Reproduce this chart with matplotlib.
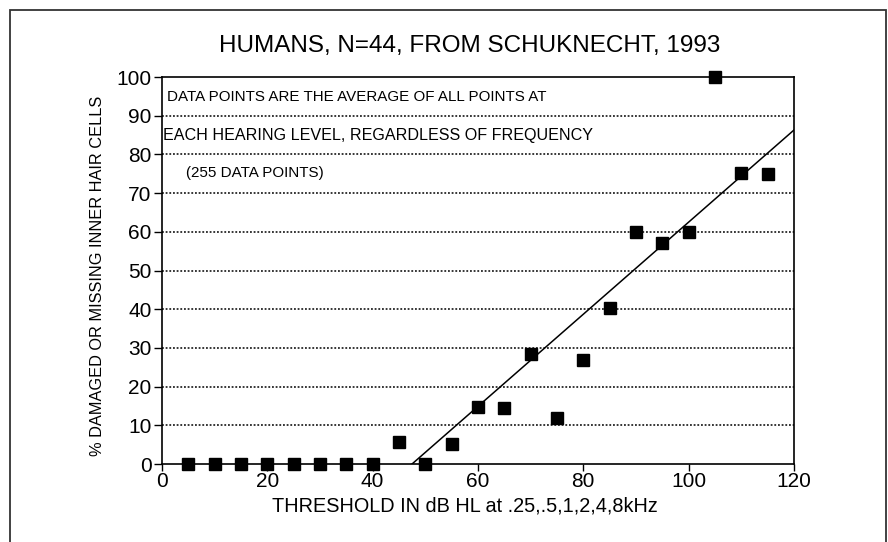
import matplotlib
matplotlib.use("Agg")
import matplotlib.pyplot as plt
from matplotlib.patches import Rectangle

# average % damaged/missing IHC per hearing level
threshold = [5, 10, 15, 20, 25, 30, 35, 40, 45, 50, 55, 60, 65, 70, 75, 80, 85, 90, 95, 100, 105, 110, 115]
damaged = [0, 0, 0, 0, 0, 0, 0, 0, 5.7, 0, 5.2, 14.7, 14.5, 28.4, 11.9, 26.9, 40.3, 60, 57, 60, 100, 75.2, 75]

# regression line drawn in the figure
fit_slope = 1.19
fit_intercept = -56.5
fit_x = [47.5, 120]

notes = ["DATA POINTS ARE THE AVERAGE OF ALL POINTS AT",
         "EACH HEARING LEVEL, REGARDLESS OF FREQUENCY",
         "(255 DATA POINTS)"]

plt.rcParams['font.family'] = ['Liberation Sans', 'DejaVu Sans']

fig = plt.figure(figsize=(8.88, 5.42), dpi=100)
ax = fig.add_axes([0.1824, 0.1439, 0.7117, 0.7140])

for g in range(10, 100, 10):
    ax.axhline(g, color='black', linestyle=(0, (1.2, 1.2)), linewidth=1.1, zorder=1)

ax.plot(fit_x, [fit_slope * x + fit_intercept for x in fit_x], color='black', linewidth=1.1, zorder=2)
ax.plot(threshold, damaged, linestyle='none', marker='s', markersize=8, color='black', clip_on=False, zorder=3)

ax.set_xlim(0, 120)
ax.set_ylim(0, 100)
ax.set_xticks(range(0, 121, 20))
ax.set_yticks(range(0, 101, 10))
ax.tick_params(direction='out', length=6, width=1, labelsize=15, pad=1.5)
ax.tick_params(axis='x', length=5, pad=1)
for s in ax.spines.values():
    s.set_linewidth(1.2)

ax.set_xlabel('THRESHOLD IN dB HL at .25,.5,1,2,4,8kHz', fontsize=14.3)
ax.xaxis.set_label_coords(0.48, -0.085)
ax.set_ylabel('% DAMAGED OR MISSING INNER HAIR CELLS', fontsize=11.8)
ax.yaxis.set_label_coords(-0.09, 0.486)

fig.text(0.529, 0.916, 'HUMANS, N=44, FROM SCHUKNECHT, 1993', fontsize=17.5, ha='center', va='center')

ax.text(1.0, 94.8, notes[0], fontsize=10.9, va='center')
ax.text(0.2, 85.0, notes[1], fontsize=11.6, va='center')
ax.text(4.5, 75.2, notes[2], fontsize=10.9, va='center')

# outer box of the scanned figure
fig.patches.append(Rectangle((10 / 888, -0.05), 876 / 888, 1.05 - 10 / 542, transform=fig.transFigure,
                             fill=False, edgecolor='#333333', linewidth=1.3))

fig.savefig('out.png', dpi=100)
